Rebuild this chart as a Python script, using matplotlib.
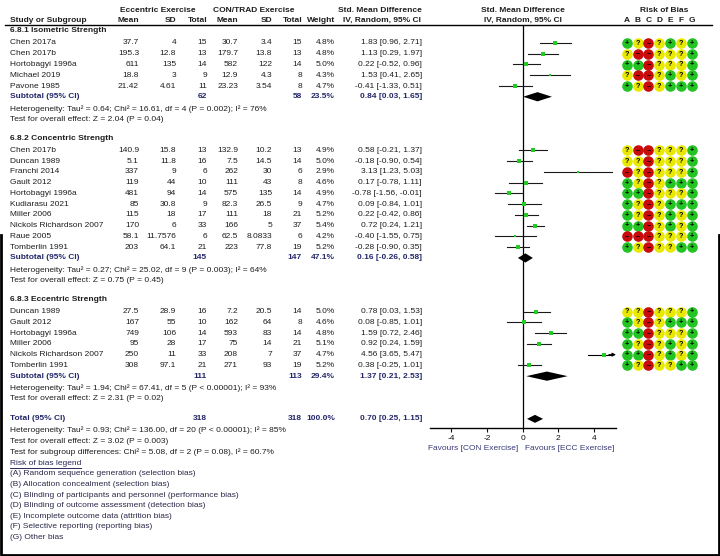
import matplotlib
matplotlib.use("Agg")
import matplotlib.pyplot as plt

plt.rcParams['font.family'] = ['Liberation Sans', 'DejaVu Sans']
plt.rcParams['axes.unicode_minus'] = False
FS = 6.0

# 6.8.1 Isometric Strength
iso_names = ["Chen 2017a", "Chen 2017b", "Hortobagyi 1996a", "Michael 2019", "Pavone 1985"]
iso_ecc = [["37.7", "4", "15"], ["195.3", "12.8", "13"], ["611", "135", "14"], ["18.8", "3", "9"], ["21.42", "4.61", "11"]]
iso_con = [["30.7", "3.4", "15"], ["179.7", "13.8", "13"], ["582", "122", "14"], ["12.9", "4.3", "8"], ["23.23", "3.54", "8"]]
iso_weight = [4.8, 4.8, 5.0, 4.3, 4.7]
iso_smd = [1.83, 1.13, 0.22, 1.53, -0.41]
iso_lo = [0.96, 0.29, -0.52, 0.41, -1.33]
iso_hi = [2.71, 1.97, 0.96, 2.65, 0.51]
iso_rob = ["+?-?+?+", "?--???+", "++-???+", "?--?+?+", "+?-?+++"]
iso_sub = ["62", "58", 23.5, 0.84, 0.03, 1.65]
iso_het = "Heterogeneity: Tau² = 0.64; Chi² = 16.61, df = 4 (P = 0.002); I² = 76%"
iso_z = "Test for overall effect: Z = 2.04 (P = 0.04)"

# 6.8.2 Concentric Strength
con_names = ["Chen 2017b", "Duncan 1989", "Franchi 2014", "Gault 2012", "Hortobagyi 1996a",
             "Kudiarasu 2021", "Miller 2006", "Nickols Richardson 2007", "Raue 2005", "Tomberlin 1991"]
con_ecc = [["140.9", "15.8", "13"], ["5.1", "11.8", "16"], ["337", "9", "6"], ["119", "44", "10"],
           ["481", "94", "14"], ["85", "30.8", "9"], ["115", "18", "17"], ["170", "6", "33"],
           ["58.1", "11.7576", "6"], ["203", "64.1", "21"]]
con_con = [["132.9", "10.2", "13"], ["7.5", "14.5", "14"], ["262", "30", "6"], ["111", "43", "8"],
           ["575", "135", "14"], ["82.3", "26.5", "9"], ["111", "18", "21"], ["166", "5", "37"],
           ["62.5", "8.0833", "6"], ["223", "77.8", "19"]]
con_weight = [4.9, 5.0, 2.9, 4.6, 4.9, 4.7, 5.2, 5.4, 4.2, 5.2]
con_smd = [0.58, -0.18, 3.13, 0.17, -0.78, 0.09, 0.22, 0.72, -0.40, -0.28]
con_lo = [-0.21, -0.90, 1.23, -0.78, -1.56, -0.84, -0.42, 0.24, -1.55, -0.90]
con_hi = [1.37, 0.54, 5.03, 1.11, -0.01, 1.01, 0.86, 1.21, 0.75, 0.35]
con_rob = ["?--???+", "??-???+", "-?-???+", "+?-?+++", "++-???+",
           "+?-?+++", "+?-?+?+", "++-?+?+", "---???+", "+?-??++"]
con_sub = ["145", "147", 47.1, 0.16, -0.26, 0.58]
con_het = "Heterogeneity: Tau² = 0.27; Chi² = 25.02, df = 9 (P = 0.003); I² = 64%"
con_z = "Test for overall effect: Z = 0.75 (P = 0.45)"

# 6.8.3 Eccentric Strength
ecc_names = ["Duncan 1989", "Gault 2012", "Hortobagyi 1996a", "Miller 2006",
             "Nickols Richardson 2007", "Tomberlin 1991"]
ecc_ecc = [["27.5", "28.9", "16"], ["167", "55", "10"], ["749", "106", "14"], ["95", "28", "17"],
           ["250", "11", "33"], ["308", "97.1", "21"]]
ecc_con = [["7.2", "20.5", "14"], ["162", "64", "8"], ["593", "83", "14"], ["75", "14", "21"],
           ["208", "7", "37"], ["271", "93", "19"]]
ecc_weight = [5.0, 4.6, 4.8, 5.1, 4.7, 5.2]
ecc_smd = [0.78, 0.08, 1.59, 0.92, 4.56, 0.38]
ecc_lo = [0.03, -0.85, 0.72, 0.24, 3.65, -0.25]
ecc_hi = [1.53, 1.01, 2.46, 1.59, 5.47, 1.01]
ecc_rob = ["??-???+", "+?-?+++", "++-???+", "+?-?+?+", "++-?+?+", "+?-??++"]
ecc_sub = ["111", "113", 29.4, 1.37, 0.21, 2.53]
ecc_het = "Heterogeneity: Tau² = 1.94; Chi² = 67.41, df = 5 (P < 0.00001); I² = 93%"
ecc_z = "Test for overall effect: Z = 2.31 (P = 0.02)"

total_vals = ["318", "318", 100.0, 0.70, 0.25, 1.15]
total_lines = ["Heterogeneity: Tau² = 0.93; Chi² = 136.00, df = 20 (P < 0.00001); I² = 85%",
               "Test for overall effect: Z = 3.02 (P = 0.003)",
               "Test for subgroup differences: Chi² = 5.08, df = 2 (P = 0.08), I² = 60.7%"]
rob_cols = ["A", "B", "C", "D", "E", "F", "G"]
rob_legend = ["(A) Random sequence generation (selection bias)",
              "(B) Allocation concealment (selection bias)",
              "(C) Blinding of participants and personnel (performance bias)",
              "(D) Blinding of outcome assessment (detection bias)",
              "(E) Incomplete outcome data (attrition bias)",
              "(F) Selective reporting (reporting bias)",
              "(G) Other bias"]

sections = [
    ("6.8.1 Isometric Strength", iso_names, iso_ecc, iso_con, iso_weight, iso_smd, iso_lo, iso_hi, iso_rob, iso_sub, iso_het, iso_z),
    ("6.8.2 Concentric Strength", con_names, con_ecc, con_con, con_weight, con_smd, con_lo, con_hi, con_rob, con_sub, con_het, con_z),
    ("6.8.3 Eccentric Strength", ecc_names, ecc_ecc, ecc_con, ecc_weight, ecc_smd, ecc_lo, ecc_hi, ecc_rob, ecc_sub, ecc_het, ecc_z),
]

W, H = 720, 556
fig = plt.figure(figsize=(W / 100, H / 100), dpi=100)
ax = fig.add_axes([0, 0, 1, 1])
ax.set_xlim(0, W)
ax.set_ylim(H, 0)
ax.axis('off')

# forest panel: pixel x 430..616, pixel y 25..428.3
ax_top, ax_bot = 25, 428.3
fax = fig.add_axes([430 / W, 1 - ax_bot / H, 186 / W, (ax_bot - ax_top) / H])
fax.set_xlim(-5.2, 5.25)
fax.set_ylim(ax_bot, ax_top)
fax.patch.set_alpha(0)
for s in ['top', 'left', 'right']:
    fax.spines[s].set_visible(False)
fax.spines['bottom'].set_linewidth(1.0)
fax.set_yticks([])
fax.set_xticks([-4, -2, 0, 2, 4])
fax.tick_params(axis='x', length=3, width=0.8, labelsize=FS, pad=1.5, colors='#111')
fax.axvline(0, color='black', lw=0.9)

TXT = '#1e1e1e'
BLUE = '#24286a'
col_x = [139, 176, 207, 238, 272, 302]
x_weight, x_eff = 335, 422
rob_x0, rob_dx = 626.7, 10.83
rob_color = {'+': '#22c322', '?': '#e8e800', '-': '#c80c0c'}

def txt(x, y, s, ha='left', bold=False, color=TXT, **kw):
    ax.text(x, y, s, ha=ha, va='center', fontsize=FS, color=color,
            fontweight='bold' if bold else 'normal', **kw)

# headers
txt(158, 10, "Eccentric Exercise", ha='center', bold=True)
txt(254, 10, "CON/TRAD Exercise", ha='center', bold=True)
txt(380, 10, "Std. Mean Difference", ha='center', bold=True)
txt(523, 10, "Std. Mean Difference", ha='center', bold=True)
txt(664, 10, "Risk of Bias", ha='center', bold=True)
txt(10, 20, "Study or Subgroup", bold=True)
for x, s in zip(col_x, ["Mean", "SD", "Total", "Mean", "SD", "Total"]):
    txt(x, 20, s, ha='right', bold=True)
txt(x_weight, 20, "Weight", ha='right', bold=True)
txt(382, 20, "IV, Random, 95% CI", ha='center', bold=True)
txt(523, 20, "IV, Random, 95% CI", ha='center', bold=True)
for k, c in enumerate(rob_cols):
    txt(rob_x0 + k * rob_dx, 20, c, ha='center', bold=True)
ax.plot([5, 712], [25, 25], color='black', lw=1.0)

def diamond(y, est, lo, hi, h=4.6):
    fax.fill([lo, est, hi, est], [y, y - h, y, y + h], color='black', lw=0)

y = 31
for title, names, ecc, con, wts, smd, lo, hi, rob, sub, het, zline in sections:
    txt(10, y, title, bold=True)
    y += 12
    for i in range(len(names)):
        txt(10, y, names[i])
        for x, s in zip(col_x, ecc[i] + con[i]):
            txt(x, y, s, ha='right')
        txt(x_weight, y, "%.1f%%" % wts[i], ha='right')
        txt(x_eff, y, "%.2f [%.2f, %.2f]" % (smd[i], lo[i], hi[i]), ha='right')
        xmax = fax.get_xlim()[1]
        if hi[i] > xmax:
            fax.plot([lo[i], xmax - 0.25], [y, y], color='black', lw=0.8)
            fax.annotate('', xy=(xmax, y), xytext=(xmax - 0.4, y),
                         arrowprops=dict(arrowstyle='-|>', color='black', lw=0.8,
                                         mutation_scale=5, shrinkA=0, shrinkB=0))
        else:
            fax.plot([lo[i], hi[i]], [y, y], color='#1a1a1a', lw=0.8)
        fax.plot(smd[i], y, 's', color='#22cc22', ms=wts[i] * 0.5, mew=0)
        for k, r in enumerate(rob[i]):
            cx = rob_x0 + k * rob_dx
            ax.scatter(cx, y, s=58, color=rob_color[r], lw=0, zorder=3)
            sym = {'+': '+', '?': '?', '-': '–'}[r]
            ax.text(cx, y + 0.3, sym, ha='center', va='center', fontsize=5.2,
                    fontweight='bold', color='black', zorder=4)
        y += 10.75
    txt(10, y, "Subtotal (95% CI)", bold=True, color=BLUE)
    txt(col_x[2], y, sub[0], ha='right', bold=True, color=BLUE)
    txt(col_x[5], y, sub[1], ha='right', bold=True, color=BLUE)
    txt(x_weight, y, "%.1f%%" % sub[2], ha='right', bold=True, color=BLUE)
    txt(x_eff, y, "%.2f [%.2f, %.2f]" % (sub[3], sub[4], sub[5]), ha='right', bold=True, color=BLUE)
    diamond(y, sub[3], sub[4], sub[5])
    y += 12
    txt(10, y, het)
    y += 10.4
    txt(10, y, zline)
    y += 19.3 if title != sections[-1][0] else 20.3

# overall total
txt(10, y, "Total (95% CI)", bold=True, color=BLUE)
txt(col_x[2], y, total_vals[0], ha='right', bold=True, color=BLUE)
txt(col_x[5], y, total_vals[1], ha='right', bold=True, color=BLUE)
txt(x_weight, y, "%.1f%%" % total_vals[2], ha='right', bold=True, color=BLUE)
txt(x_eff, y, "%.2f [%.2f, %.2f]" % (total_vals[3], total_vals[4], total_vals[5]),
    ha='right', bold=True, color=BLUE)
diamond(y, total_vals[3], total_vals[4], total_vals[5], h=4.0)
y += 11.7
for line in total_lines:
    txt(10, y, line)
    y += 11.0

txt(518, 448.3, "Favours [CON Exercise]", ha='right', color='#3a3a78')
txt(525, 448.3, "Favours [ECC Exercise]", ha='left', color='#3a3a78')

y = 463.2
txt(10, y, "Risk of bias legend", color='#2a2a5a')
ax.plot([10, 81], [y + 4.4, y + 4.4], color='#2a2a5a', lw=0.7)
y += 10.6
for line in rob_legend:
    txt(10, y, line, color='#2a2a4a')
    y += 10.6

# frame
ax.plot([1, 1, 719, 719], [235, 555, 555, 235], color='black', lw=2.0)

fig.savefig("out.png", dpi=100)
